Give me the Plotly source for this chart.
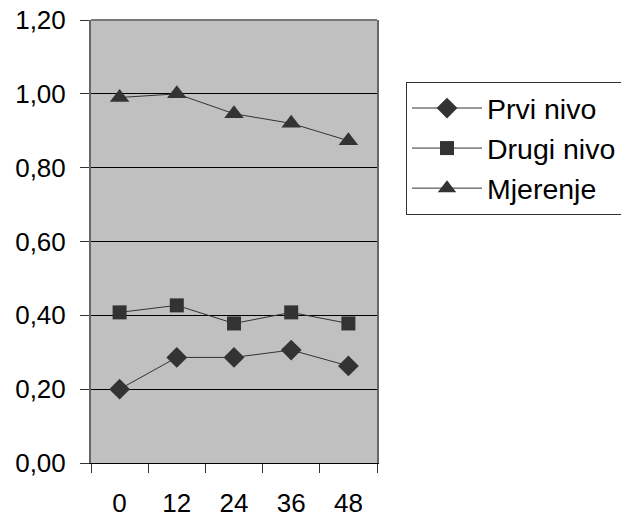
import plotly.graph_objects as go

categories = ["0", "12", "24", "36", "48"]
prvi_nivo = [0.20, 0.286, 0.286, 0.306, 0.263]
drugi_nivo = [0.408, 0.427, 0.378, 0.408, 0.378]
mjerenje = [0.99, 1.00, 0.946, 0.92, 0.873]
y_ticks = [0.0, 0.2, 0.4, 0.6, 0.8, 1.0, 1.2]

series = [
    ("Prvi nivo", prvi_nivo, "diamond", 16),
    ("Drugi nivo", drugi_nivo, "square", 14),
    ("Mjerenje", mjerenje, "triangle-up", 17),
]

fig = go.Figure()
for name, vals, sym, size in series:
    fig.add_trace(go.Scatter(
        x=categories, y=vals, name=name, mode="lines+markers",
        line=dict(color="#333333", width=1),
        marker=dict(symbol=sym, size=size, color="#333333"),
    ))

fig.update_layout(
    width=621, height=525,
    margin=dict(l=91, r=244, t=20, b=62, autoexpand=False),
    paper_bgcolor="white", plot_bgcolor="#C0C0C0",
    separators=", ",
    font=dict(family="Liberation Sans, Arial", size=26, color="black"),
    showlegend=True,
    legend=dict(
        x=406 / 621, y=1 - 82 / 525, xref="container", yref="container",
        xanchor="left", yanchor="top",
        bordercolor="#333333", borderwidth=1, bgcolor="white",
        font=dict(size=28.5), tracegroupgap=0, itemwidth=70,
    ),
    xaxis=dict(
        type="category", range=[-0.5, 4.5], tickson="boundaries",
        showline=True, linecolor="black", linewidth=1,
        ticks="outside", ticklen=9, tickcolor="#333333",
        showgrid=False, zeroline=False, ticklabelstandoff=17, automargin=False,
    ),
    yaxis=dict(
        range=[0, 1.2], tickvals=y_ticks, tickformat=".2f",
        showline=True, linecolor="#666666", linewidth=2, mirror=True,
        ticks="outside", ticklen=9, tickcolor="#333333",
        showgrid=True, gridcolor="black", gridwidth=1, zeroline=False,
        ticklabelstandoff=9, automargin=False,
    ),
    shapes=[dict(type="line", xref="paper", yref="paper", x0=0, x1=1, y0=1, y1=1,
                 line=dict(color="#777777", width=2))],
)

fig.write_html("out.html")
